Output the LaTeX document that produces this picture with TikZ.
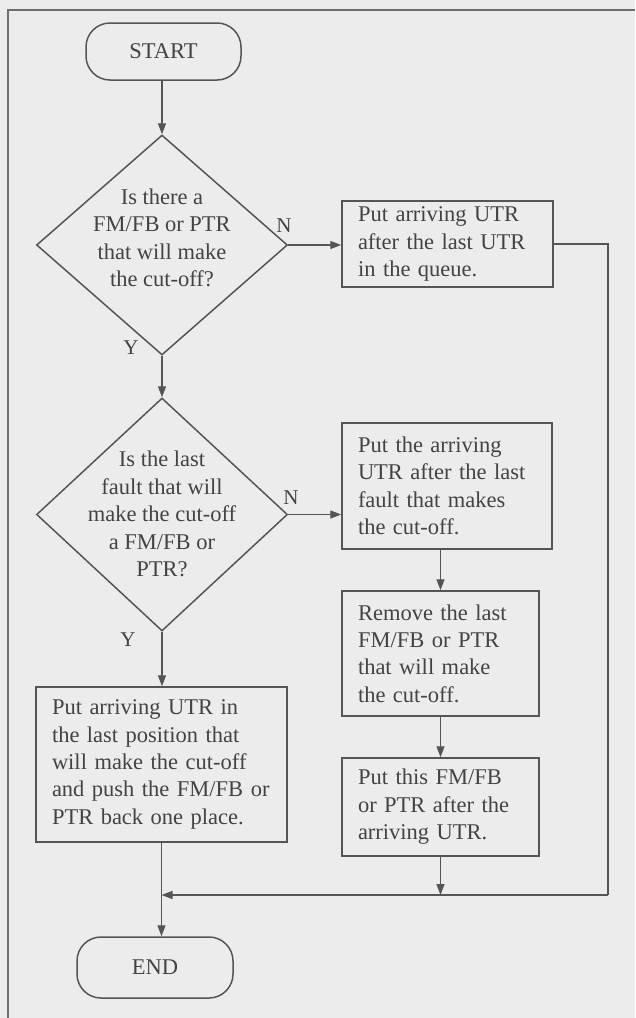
\documentclass[tikz,border=0pt]{standalone}
\usepackage{fontspec}
\setmainfont{Liberation Serif}
\usetikzlibrary{shapes.geometric,arrows.meta,calc}
\definecolor{paper}{HTML}{ECECEC}
\definecolor{ink}{HTML}{555555}
\definecolor{txt}{HTML}{434343}
\begin{document}
\begin{tikzpicture}[x=1pt,y=-1pt,
  every node/.style={font=\fontsize{22.5}{27.4}\selectfont, text=txt},
  flow/.style={draw=ink, line width=1.5pt},
  term/.style={flow, rounded corners=24pt, inner sep=0pt},
  proc/.style={flow, rectangle, inner xsep=16pt, inner ysep=0pt, align=left},
  dec/.style={flow, diamond, inner sep=0pt},
  tag/.style={font=\fontsize{21}{24}\selectfont, inner sep=0pt},
  conn/.style={draw=ink, line width=1.4pt, -{Triangle[length=11pt,width=8pt]}},
  wire/.style={draw=ink, line width=1.4pt},
]
% page and frame
\fill[paper] (0,0) rectangle (635,1018);
\useasboundingbox (0,0) rectangle (635,1018);
\draw[ink!85, line width=1.8pt] (8,1018) -- (8,10) -- (635,10);

% terminals
\node[term, minimum width=155pt, minimum height=57pt] (start) at (163.5,51.5) {START};
\node[term, minimum width=156pt, minimum height=61pt] (end) at (155,967.5) {END};

% decisions
\node[dec, minimum width=251pt, minimum height=220pt] (d1) at (162,245) {};
\node[align=center] (d1t) at (162,238) {Is there a\\FM/FB or PTR\\that will make\\the cut-off?};
\node[dec, minimum width=251pt, minimum height=233pt] (d2) at (162,514.5) {};
\node[align=center] (d2t) at (162,514) {Is the last\\fault that will\\make the cut-off\\a FM/FB or\\PTR?};

% process boxes
\node[proc, minimum width=211pt, minimum height=86pt, text width=179pt] (b1) at (447.5,244)
  {Put arriving UTR\\after the last UTR\\in the queue.};
\node[proc, minimum width=210pt, minimum height=126pt, text width=178pt] (b2) at (447,486)
  {Put the arriving\\UTR after the last\\fault that makes\\the cut-off.};
\node[proc, minimum width=197pt, minimum height=125pt, text width=165pt] (b3) at (440.5,653.5)
  {Remove the last\\FM/FB or PTR\\that will make\\the cut-off.};
\node[proc, minimum width=197pt, minimum height=98pt, text width=165pt] (b4) at (440.5,807)
  {Put this FM/FB\\or PTR after the\\arriving UTR.};
\node[proc, minimum width=251pt, minimum height=155pt, text width=219pt] (by) at (161.5,764.5)
  {Put arriving UTR in\\the last position that\\will make the cut-off\\and push the FM/FB or\\PTR back one place.};

% branch labels
\node[tag] (n1) at (284,226) {N};
\node[tag] (y1) at (131,348) {Y};
\node[tag] (n2) at (291,498) {N};
\node[tag] (y2) at (128,640) {Y};

% return path corner
\coordinate (r) at (608,895);

% connectors
\draw[conn] (d1.north |- start.south) -- (d1.north);
\draw[conn] (d1.east) -- (d1.east -| b1.west);
\draw[conn] (d1.south) -- (d2.north);
\draw[conn] (d2.east) -- (d2.east -| b2.west);
\draw[conn] (d2.south) -- (d2.south |- by.north);
\draw[conn] (b2.south -| b3.north) -- (b3.north);
\draw[conn] (b3.south) -- (b4.north);
\draw[conn] (b4.south) -- (b4.south |- r);
\draw[wire] (b1.east) -| (r);
\draw[conn] (r) -- (r -| by.south);
\draw[conn] (by.south) -- (by.south |- end.north);
\end{tikzpicture}
\end{document}
